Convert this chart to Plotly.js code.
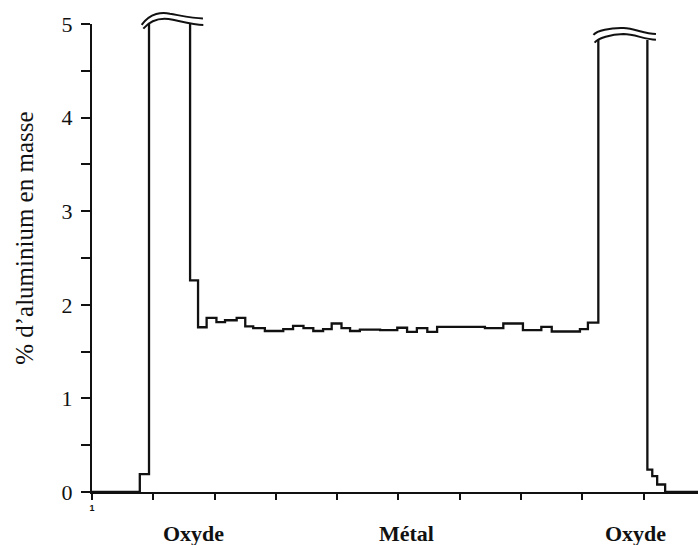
<!DOCTYPE html>
<html>
<head>
<meta charset="utf-8">
<script src="https://cdn.plot.ly/plotly-3.0.1.min.js"></script>
<style>
  html, body { margin: 0; padding: 0; background: #fff; }
  #chart { width: 698px; height: 545px; }
</style>
</head>
<body>
<div id="chart"></div>
<script>
// ---- Data (x in arbitrary distance units, y in % Al by mass) ----
const XMAX = 98.86;
// Step edges along the profile
const stepEdges = [0, 7.8, 9.3, 16.0, 17.3, 18.7, 20.3, 21.7, 23.6, 25.0, 26.3, 28.2, 31.2, 32.8,
  34.5, 36.1, 37.7, 39.1, 40.7, 42.1, 43.7, 47.0, 49.8, 51.4, 53.0, 54.7, 56.3, 64.1, 67.1, 70.3,
  73.3, 75.0, 79.6, 80.9, 82.6, 90.6, 91.4, 92.2, 93.5, XMAX];
// Level of each step (null = oxide peak, truncated off-scale)
const stepLevels = [0, 0.19, null, 2.26, 1.76, 1.86, 1.815, 1.835, 1.86, 1.77, 1.75, 1.72, 1.74,
  1.775, 1.75, 1.72, 1.74, 1.80, 1.75, 1.72, 1.735, 1.73, 1.755, 1.71, 1.75, 1.71, 1.765, 1.75,
  1.80, 1.73, 1.765, 1.715, 1.74, 1.81, null, 0.24, 0.17, 0.08, 0];
// Drawn height where each truncated peak is cut
const peakTops = [5.0, 4.83];
// Region labels under the axis
const regionLabels = ['Oxyde', 'Métal', 'Oxyde'];
const regionPos = [16.5, 51.3, 88.7];
// Axis ticks
const xTickVals = [0, 10, 20, 30, 40, 50, 60, 70, 80, 90];
const xTickText = ['1', '', '', '', '', '', '', '', '', ''];
const yTickVals = [0, 0.5, 1, 1.5, 2, 2.5, 3, 3.5, 4, 4.5, 5];
const yTickText = ['0', '', '1', '', '2', '', '3', '', '4', '', '5'];

// ---- Build step polyline ----
const px = [], py = [];
let peakIdx = 0;
for (let i = 0; i < stepLevels.length; i++) {
  const a = stepEdges[i], b = stepEdges[i + 1];
  if (stepLevels[i] === null) {
    const top = peakTops[peakIdx++];
    px.push(a); py.push(top);
    px.push(null); py.push(null);
    px.push(b); py.push(top);
  } else {
    px.push(a); py.push(stepLevels[i]);
    px.push(b); py.push(stepLevels[i]);
  }
}

// ---- Break marks (decoration) in data units, converted to paper ----
function P(u, v) { return (u / XMAX).toFixed(5) + ',' + (v / 5).toFixed(5); }
function curve(pts) {
  return 'M' + P(pts[0][0], pts[0][1]) +
    ' C' + P(pts[1][0], pts[1][1]) + ' ' + P(pts[2][0], pts[2][1]) + ' ' + P(pts[3][0], pts[3][1]) +
    ' C' + P(pts[4][0], pts[4][1]) + ' ' + P(pts[5][0], pts[5][1]) + ' ' + P(pts[6][0], pts[6][1]);
}
const breakCurves = [
  [[8.1, 4.99], [9.5, 5.12], [11.5, 5.13], [12.7, 5.11], [14.5, 5.09], [16.5, 5.06], [18.1, 5.06]],
  [[8.37, 4.95], [9.8, 5.06], [11.8, 5.065], [13.2, 5.045], [15.0, 5.02], [16.8, 4.99], [18.16, 4.99]],
  [[81.8, 4.884], [82.4, 4.93], [84.5, 4.96], [86.7, 4.956], [88.5, 4.95], [90.0, 4.9], [92.0, 4.892]],
  [[81.99, 4.802], [82.6, 4.85], [84.6, 4.89], [86.7, 4.892], [88.5, 4.89], [90.0, 4.84], [92.0, 4.831]]
];
const shapes = breakCurves.map(c => ({
  type: 'path', xref: 'paper', yref: 'paper', path: curve(c),
  line: { color: '#111', width: 2 }
}));

const annotations = regionLabels.map((t, i) => ({
  text: t, x: regionPos[i], xref: 'x', y: -0.088, yref: 'paper',
  xanchor: 'center', yanchor: 'middle', showarrow: false,
  font: { family: 'Liberation Serif, Times New Roman, serif', size: 22, color: '#111', weight: 'bold' }
}));
annotations.push({
  text: '% d’aluminium en masse', textangle: -90,
  x: -0.1106, xref: 'paper', y: 0.543, yref: 'paper',
  xanchor: 'center', yanchor: 'middle', showarrow: false,
  font: { family: 'Liberation Serif, Times New Roman, serif', size: 25, color: '#111' }
});

const trace = {
  x: px, y: py, type: 'scatter', mode: 'lines', connectgaps: false,
  line: { color: '#111', width: 2.3 }, hoverinfo: 'skip'
};

const layout = {
  width: 698, height: 545,
  margin: { l: 92, r: 0, t: 24, b: 53 },
  paper_bgcolor: '#fff', plot_bgcolor: '#fff',
  showlegend: false,
  font: { family: 'Liberation Serif, Times New Roman, serif', color: '#111' },
  xaxis: {
    range: [0, XMAX], showline: true, linewidth: 2, linecolor: '#111',
    ticks: 'outside', ticklen: 6, tickwidth: 2, tickcolor: '#111',
    tickvals: xTickVals, ticktext: xTickText,
    tickfont: { family: 'Liberation Sans, Arial, sans-serif', size: 9, color: '#111', weight: 'bold' },
    showgrid: false, zeroline: false, fixedrange: true
  },
  yaxis: {
    range: [0, 5], showline: true, linewidth: 2, linecolor: '#111',
    ticks: 'outside', ticklen: 9, tickwidth: 2, tickcolor: '#111',
    tickvals: yTickVals, ticktext: yTickText, ticklabelstandoff: 4,
    tickfont: { family: 'Liberation Serif, Times New Roman, serif', size: 22, color: '#111' },
    showgrid: false, zeroline: false, fixedrange: true
  },
  shapes: shapes,
  annotations: annotations
};

Plotly.newPlot('chart', [trace], layout, { displayModeBar: false, staticPlot: true });
</script>
</body>
</html>
